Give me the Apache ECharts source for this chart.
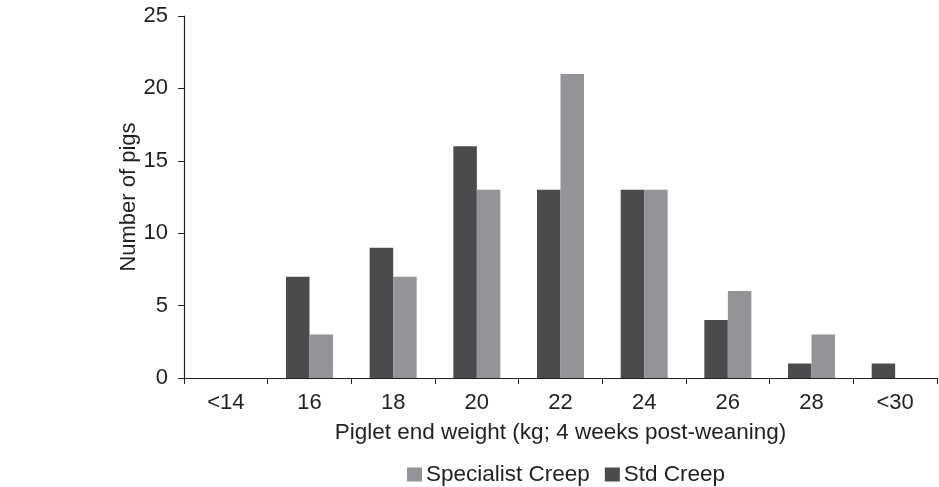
<!DOCTYPE html>
<html>
<head>
<meta charset="utf-8">
<script src="https://cdn.jsdelivr.net/npm/echarts@6/dist/echarts.min.js"></script>
<style>html,body{margin:0;padding:0;background:#fff}#c{width:939px;height:487px}</style>
</head>
<body>
<div id="c"></div>
<script>
var categories = ['<14','16','18','20','22','24','26','28','<30'];
var stdCreep = [0,7,9,16,13,13,4,1,1];
var specialistCreep = [0,3,7,13,21,13,6,3,0];
var yTicks = [0,5,10,15,20,25];

var FONT = "'Liberation Sans',Arial,Helvetica,sans-serif";
var TXT = '#231f20';
var chart = echarts.init(document.getElementById('c'));
chart.setOption({
  animation: false,
  backgroundColor: '#fff',
  textStyle: {fontFamily: FONT},
  legend: {
    data: ['Specialist Creep','Std Creep'],
    left: 402, top: 458,
    icon: 'rect', itemWidth: 15, itemHeight: 14, itemGap: 15,
    textStyle: {fontFamily: FONT, fontSize: 22.5, color: TXT, padding: [0,0,0,-1]}
  },
  grid: {left: 184, right: 2, top: 16, bottom: 109, containLabel: false},
  xAxis: {
    type: 'category',
    data: categories,
    name: 'Piglet end weight (kg; 4 weeks post-weaning)',
    nameLocation: 'middle', nameGap: 43,
    nameTextStyle: {fontFamily: FONT, fontSize: 22.5, color: TXT},
    axisLine: {lineStyle: {color: TXT, width: 1.2}},
    axisTick: {show: true, length: 6, lineStyle: {color: TXT}},
    axisLabel: {fontFamily: FONT, fontSize: 22, color: TXT, margin: 14}
  },
  yAxis: {
    type: 'value',
    min: yTicks[0], max: yTicks[yTicks.length-1], interval: 5,
    name: 'Number of pigs',
    nameLocation: 'middle', nameGap: 44,
    nameMoveOverlap: false,
    nameTextStyle: {fontFamily: FONT, fontSize: 22, color: TXT},
    axisLine: {show: true, lineStyle: {color: TXT, width: 1.2}},
    axisTick: {show: true, length: 6, lineStyle: {color: TXT}},
    splitLine: {show: false},
    axisLabel: {fontFamily: FONT, fontSize: 22, color: TXT, margin: 16}
  },
  series: [
    {name: 'Std Creep', type: 'bar', data: stdCreep, barWidth: 23.5, barGap: '0%',
     itemStyle: {color: '#4a4b4d'}},
    {name: 'Specialist Creep', type: 'bar', data: specialistCreep, barWidth: 23.5, barGap: '0%',
     itemStyle: {color: '#939497'}}
  ]
});
</script>
</body>
</html>
